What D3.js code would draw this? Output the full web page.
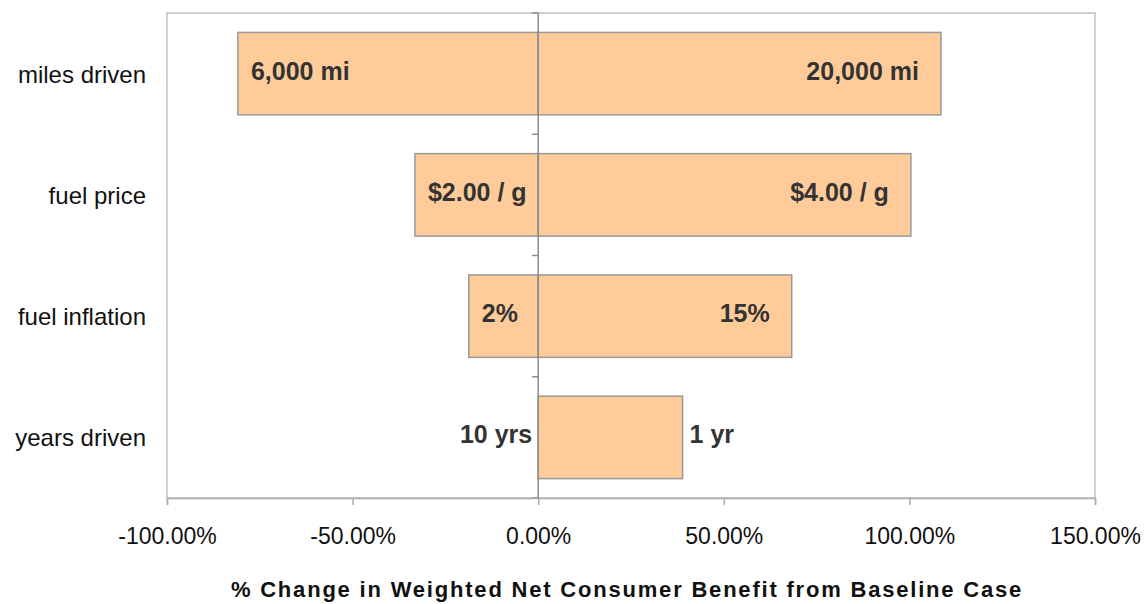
<!DOCTYPE html>
<html>
<head>
<meta charset="UTF-8">
<script src="https://d3js.org/d3.v7.min.js"></script>
<style>
  body { margin: 0; background: #fff; }
  text { font-family: "Liberation Sans", Arial, sans-serif; }
</style>
</head>
<body>
<svg id="chart" width="1148" height="604"></svg>
<script>
// data
var categories = ["miles driven", "fuel price", "fuel inflation", "years driven"];
var lowValues  = [-80.9, -33.2, -18.7, 0];     // % change, low case
var highValues = [108.5, 100.4, 68.3, 38.9];   // % change, high case
var lowLabels  = ["6,000 mi", "$2.00 / g", "2%", "10 yrs"];
var highLabels = ["20,000 mi", "$4.00 / g", "15%", "1 yr"];
var highOutside = [false, false, false, true];
var xTicks = [-100, -50, 0, 50, 100, 150];

var svg = d3.select("#chart");
var pLeft = 167, pRight = 1095, pTop = 13, pBottom = 498;

var x = d3.scaleLinear().domain([-100, 150]).range([pLeft, pRight]);
var y = d3.scaleBand().domain(categories).range([pTop, pBottom]).paddingInner(0.32).paddingOuter(0.16);

var rows = categories.map(function(c, i) {
  return {cat: c, lo: lowValues[i], hi: highValues[i], loLab: lowLabels[i], hiLab: highLabels[i], out: highOutside[i]};
});

// plot frame
svg.append("rect")
  .attr("x", pLeft).attr("y", pTop)
  .attr("width", pRight - pLeft).attr("height", pBottom - pTop)
  .attr("fill", "none").attr("stroke", "#c0c0c0").attr("stroke-width", 1.5);

// bars
var g = svg.append("g");
g.selectAll("rect.lo").data(rows.filter(function(d){ return d.lo < 0; })).enter()
  .append("rect").attr("class", "lo")
  .attr("x", function(d){ return x(d.lo); })
  .attr("y", function(d){ return y(d.cat); })
  .attr("width", function(d){ return x(0) - x(d.lo); })
  .attr("height", y.bandwidth())
  .attr("fill", "#ffcc99").attr("stroke", "#999").attr("stroke-width", 1.5);

g.selectAll("rect.hi").data(rows).enter()
  .append("rect").attr("class", "hi")
  .attr("x", x(0))
  .attr("y", function(d){ return y(d.cat); })
  .attr("width", function(d){ return x(d.hi) - x(0); })
  .attr("height", y.bandwidth())
  .attr("fill", "#ffcc99").attr("stroke", "#999").attr("stroke-width", 1.5);

// centre axis line with category ticks
svg.append("line")
  .attr("x1", x(0)).attr("x2", x(0)).attr("y1", pTop).attr("y2", pBottom)
  .attr("stroke", "#8c8c8c").attr("stroke-width", 1.5);
d3.range(categories.length + 1).forEach(function(i) {
  var yy = pTop + (pBottom - pTop) * i / categories.length;
  svg.append("line")
    .attr("x1", x(0) - 6).attr("x2", x(0)).attr("y1", yy).attr("y2", yy)
    .attr("stroke", "#8c8c8c").attr("stroke-width", 1.5);
});

// bar labels
var lab = svg.append("g")
  .attr("font-size", 25).attr("font-weight", "bold").attr("fill", "#333");
lab.selectAll("text.lo").data(rows).enter().append("text")
  .attr("x", function(d){ return d.lo < 0 ? x(d.lo) + 13 : x(0) - 6; })
  .attr("y", function(d){ return y(d.cat) + y.bandwidth() / 2 + 6; })
  .attr("text-anchor", function(d){ return d.lo < 0 ? "start" : "end"; })
  .text(function(d){ return d.loLab; });
lab.selectAll("text.hi").data(rows).enter().append("text")
  .attr("x", function(d){ return d.out ? x(d.hi) + 7 : x(d.hi) - 22; })
  .attr("y", function(d){ return y(d.cat) + y.bandwidth() / 2 + 6; })
  .attr("text-anchor", function(d){ return d.out ? "start" : "end"; })
  .text(function(d){ return d.hiLab; });

// category names
svg.append("g").selectAll("text").data(categories).enter().append("text")
  .attr("x", 146)
  .attr("y", function(d){ return y(d) + y.bandwidth() / 2 + 9; })
  .attr("text-anchor", "end")
  .attr("font-size", 24).attr("fill", "#111")
  .text(function(d){ return d; });

// bottom axis
var xAxis = d3.axisBottom(x).tickValues(xTicks).tickSize(7).tickPadding(23)
  .tickFormat(function(d){ return d3.format(".2f")(d).replace("\u2212", "-") + "%"; });
var ax = svg.append("g").attr("transform", "translate(0," + pBottom + ")").call(xAxis);
ax.select(".domain").attr("stroke", "#aaa").attr("stroke-width", 1.5);
ax.selectAll(".tick line").attr("stroke", "#aaa").attr("stroke-width", 1.5);
ax.selectAll(".tick text").attr("font-size", 23).attr("fill", "#111")
  .attr("font-family", "Liberation Sans, Arial, sans-serif");

svg.append("text")
  .attr("x", 627).attr("y", 597)
  .attr("text-anchor", "middle")
  .attr("font-size", 22).attr("font-weight", "bold").attr("fill", "#111")
  .attr("letter-spacing", 1.8)
  .text("% Change in Weighted Net Consumer Benefit from Baseline Case");
</script>
</body>
</html>
